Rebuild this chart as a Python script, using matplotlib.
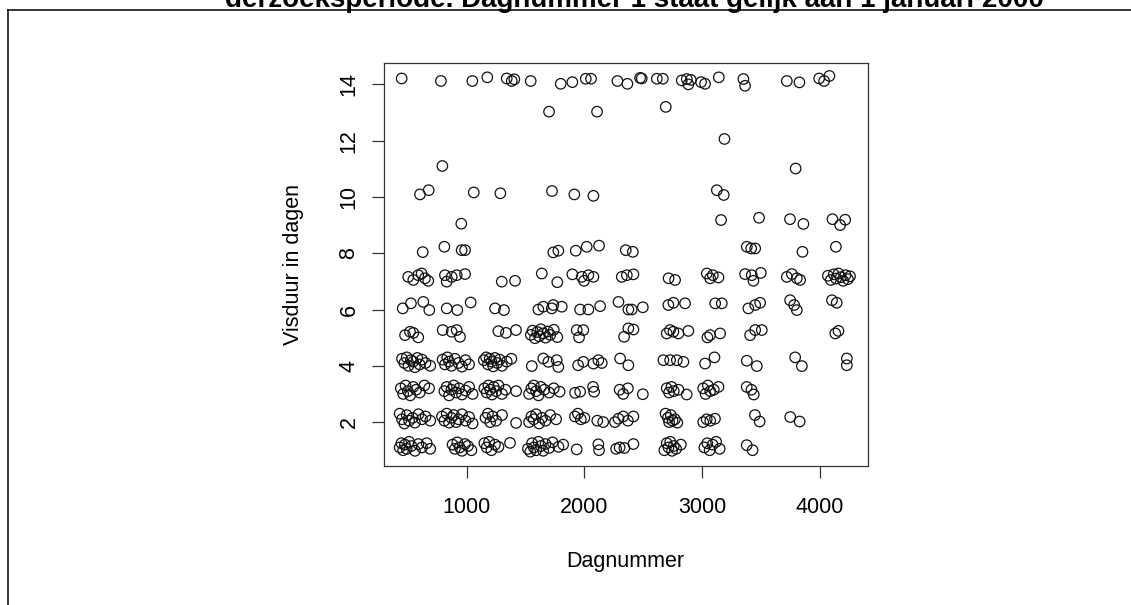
import numpy as np
import matplotlib
matplotlib.use("Agg")
import matplotlib.pyplot as plt
from matplotlib.lines import Line2D

plt.rcParams['font.family'] = ['Liberation Sans', 'DejaVu Sans']

# Dagnummer (x) and jittered visduur in dagen (y), grouped by whole-day level
dag_1 = [430, 445, 460, 475, 490, 510, 530, 560, 590, 620, 660, 690,
         880, 900, 920, 940, 960, 985, 1010, 1040,
         1150, 1170, 1190, 1210, 1240, 1270, 1368,
         1520, 1540, 1555, 1570, 1590, 1610, 1630, 1650, 1670, 1700, 1730, 1780, 1820,
         1935, 2119, 2125, 2270, 2300, 2340, 2417,
         2680, 2700, 2715, 2730, 2745, 2760, 2780, 2820,
         3020, 3045, 3065, 3090, 3120, 3150, 3380, 3430]
duur_1 = [1.10, 1.25, 1.00, 1.20, 1.05, 1.30, 1.15, 0.98, 1.22, 1.10, 1.25, 1.05,
          1.20, 1.05, 1.28, 1.10, 0.98, 1.22, 1.15, 1.00,
          1.25, 1.10, 1.30, 1.00, 1.20, 1.12, 1.26,
          1.05, 0.95, 1.25, 1.10, 1.00, 1.30, 1.15, 0.98, 1.22, 1.08, 1.28, 1.12, 1.20,
          1.03, 1.21, 1.00, 1.05, 1.10, 1.08, 1.22,
          1.00, 1.25, 1.10, 1.30, 0.98, 1.15, 1.05, 1.20,
          1.10, 1.25, 1.00, 1.20, 1.30, 1.05, 1.18, 1.00]

dag_2 = [430, 450, 470, 490, 510, 540, 560, 590, 620, 650, 690,
         790, 810, 830, 850, 870, 890, 910, 930, 960, 990, 1020, 1050,
         1160, 1180, 1200, 1220, 1250, 1300, 1420,
         1530, 1550, 1570, 1590, 1615, 1640, 1670, 1710, 1760,
         1920, 1945, 1970, 2000, 2110, 2160,
         2260, 2290, 2330, 2370, 2417,
         2690, 2710, 2720, 2735, 2750, 2770, 2790,
         3010, 3040, 3070, 3110, 3450, 3490, 3750, 3830]
duur_2 = [2.30, 2.10, 1.95, 2.25, 2.05, 2.15, 1.98, 2.28, 2.10, 2.20, 2.05,
          2.20, 2.05, 2.30, 1.98, 2.15, 2.25, 2.00, 2.10, 2.28, 2.05, 2.18, 1.95,
          2.15, 2.30, 2.00, 2.20, 2.05, 2.25, 1.97,
          2.00, 2.20, 2.10, 2.28, 1.95, 2.15, 2.05, 2.25, 2.10,
          2.20, 2.30, 2.10, 2.15, 2.05, 2.00,
          2.00, 2.12, 2.20, 2.05, 2.20,
          2.30, 2.15, 2.00, 2.25, 2.05, 2.10, 1.98,
          2.00, 2.10, 2.05, 2.12, 2.25, 2.02, 2.18, 2.02]

dag_3 = [440, 460, 480, 500, 520, 545, 570, 600, 640, 680,
         810, 830, 850, 870, 890, 910, 935, 960, 990, 1020, 1050,
         1150, 1170, 1185, 1200, 1215, 1230, 1250, 1270, 1300, 1330, 1420,
         1530, 1550, 1570, 1590, 1610, 1630, 1660, 1700, 1740, 1790,
         1921, 1964, 2074, 2083, 2300, 2330, 2370, 2497,
         2700, 2720, 2740, 2760, 2800, 2870,
         3010, 3030, 3050, 3070, 3100, 3140, 3380, 3420, 3440]
duur_3 = [3.20, 3.00, 3.30, 3.10, 2.95, 3.25, 3.15, 3.05, 3.30, 3.20,
          3.10, 3.25, 2.95, 3.15, 3.30, 3.05, 3.20, 2.98, 3.12, 3.25, 3.00,
          3.20, 3.05, 3.30, 3.15, 2.98, 3.25, 3.10, 3.30, 3.00, 3.15, 3.10,
          3.00, 3.20, 3.30, 3.10, 2.95, 3.25, 3.15, 3.05, 3.20, 3.08,
          3.04, 3.08, 3.25, 3.08, 3.15, 3.00, 3.20, 2.99,
          3.20, 3.05, 3.25, 3.10, 3.15, 2.98,
          3.20, 3.00, 3.30, 3.10, 3.15, 3.25, 3.25, 3.15, 2.98]

dag_4 = [450, 470, 490, 505, 525, 545, 560, 580, 600, 620, 650, 690,
         795, 815, 835, 850, 870, 900, 930, 960, 990, 1020,
         1145, 1165, 1180, 1195, 1210, 1225, 1240, 1260, 1280, 1300, 1340, 1380,
         1553, 1651, 1694, 1765, 1779, 1947, 1991, 2077, 2119, 2148,
         2304, 2374, 2672, 2729, 2786, 2842, 3026, 3106,
         3381, 3466, 3792, 3849, 4231, 4231]
duur_4 = [4.25, 4.10, 4.30, 4.00, 4.20, 4.15, 3.95, 4.28, 4.05, 4.22, 4.10, 4.00,
          4.22, 4.05, 4.30, 4.15, 4.00, 4.25, 4.10, 3.97, 4.20, 4.05,
          4.20, 4.30, 4.05, 4.25, 4.15, 3.98, 4.28, 4.10, 4.22, 4.00, 4.15, 4.25,
          3.99, 4.26, 4.14, 4.20, 3.96, 4.02, 4.14, 4.08, 4.20, 4.10,
          4.26, 4.02, 4.20, 4.20, 4.20, 4.14, 4.08, 4.30,
          4.18, 3.99, 4.30, 3.99, 4.26, 4.02]

dag_5 = [476, 518, 546, 588, 796, 872, 915, 943, 1269, 1334, 1419,
         1545, 1560, 1580, 1600, 1615, 1630, 1650, 1670, 1690, 1710, 1740, 1770,
         1935, 1955, 1991, 2338, 2374, 2417,
         2700, 2728, 2757, 2799, 2884, 3046, 3069, 3154,
         3409, 3452, 3508, 4133, 4160]
duur_5 = [5.09, 5.21, 5.17, 5.01, 5.27, 5.21, 5.27, 5.03, 5.23, 5.17, 5.27,
          5.10, 5.25, 4.98, 5.20, 5.05, 5.30, 5.15, 5.00, 5.22, 5.10, 5.28, 5.02,
          5.27, 5.01, 5.27, 5.03, 5.33, 5.29,
          5.15, 5.27, 5.21, 5.15, 5.24, 5.01, 5.09, 5.15,
          5.09, 5.27, 5.27, 5.15, 5.24]

dag_6 = [456, 526, 631, 682, 830, 920, 1034, 1241, 1317,
         1609, 1651, 1723, 1736, 1808, 1964, 2034, 2134,
         2290, 2374, 2403, 2497, 2714, 2757, 2856, 3112, 3168,
         3394, 3452, 3494, 3749, 3783, 3806, 4105, 4145]
duur_6 = [6.04, 6.22, 6.27, 5.98, 6.04, 5.98, 6.25, 6.04, 5.98,
          6.00, 6.10, 6.04, 6.16, 6.10, 6.00, 6.00, 6.12,
          6.27, 6.00, 6.00, 6.08, 6.16, 6.24, 6.22, 6.22, 6.22,
          6.04, 6.16, 6.24, 6.33, 6.16, 5.98, 6.33, 6.24]

dag_7 = [503, 546, 588, 617, 645, 673, 815, 830, 872, 915, 986,
         1298, 1411, 1638, 1770, 1898, 1978, 1997, 2034, 2077,
         2318, 2361, 2417, 2716, 2771, 3041, 3069, 3140, 3092,
         3366, 3437, 3500, 3423, 3721, 3764, 3834, 3806,
         4070, 4095, 4120, 4140, 4160, 4180, 4200, 4220, 4240, 4258]
duur_7 = [7.16, 7.05, 7.22, 7.28, 7.11, 7.02, 7.22, 6.99, 7.16, 7.22, 7.26,
          6.99, 7.02, 7.28, 6.97, 7.25, 7.16, 7.02, 7.22, 7.16,
          7.16, 7.22, 7.25, 7.11, 7.05, 7.28, 7.11, 7.14, 7.22,
          7.26, 7.02, 7.30, 7.22, 7.16, 7.26, 7.05, 7.11,
          7.20, 7.05, 7.25, 7.10, 7.28, 7.15, 7.02, 7.22, 7.08, 7.18]

dag_8 = [626, 810, 957, 986, 1736, 1779, 1927, 2020, 2125, 2352, 2412,
         3381, 3418, 3452, 3854, 4138]
duur_8 = [8.04, 8.23, 8.11, 8.11, 8.03, 8.09, 8.09, 8.23, 8.27, 8.11, 8.05,
          8.23, 8.17, 8.17, 8.05, 8.23]

dag_9 = [954, 3162, 3485, 3748, 3862, 4109, 4174, 4217]
duur_9 = [9.05, 9.18, 9.26, 9.21, 9.04, 9.21, 9.00, 9.19]

dag_10 = [603, 677, 1060, 1286, 1725, 1915, 2077, 3126, 3185]
duur_10 = [10.09, 10.24, 10.16, 10.13, 10.21, 10.09, 10.04, 10.24, 10.07]

dag_11 = [793, 3796]
duur_11 = [11.10, 11.01]

dag_12 = [3191]
duur_12 = [12.06]

dag_13 = [1700, 2108, 2692]
duur_13 = [13.03, 13.03, 13.20]

dag_14 = [447, 781, 1048, 1175, 1340, 1383, 1405, 1544, 1799, 1898, 2012, 2057,
          2281, 2366, 2474, 2488, 2616, 2667, 2828, 2871, 2884, 2905, 2992, 3026,
          3143, 3352, 3366, 3721, 3828, 3996, 4038, 4083]
duur_14 = [14.21, 14.12, 14.12, 14.25, 14.21, 14.12, 14.18, 14.12, 14.02, 14.08, 14.20, 14.20,
           14.12, 14.02, 14.23, 14.21, 14.20, 14.20, 14.14, 14.19, 14.00, 14.16, 14.08, 14.02,
           14.25, 14.19, 13.95, 14.12, 14.07, 14.21, 14.12, 14.30]

x_ticks = [1000, 2000, 3000, 4000]
y_ticks = [2, 4, 6, 8, 10, 12, 14]

dagnummer = np.concatenate([dag_1, dag_2, dag_3, dag_4, dag_5, dag_6, dag_7,
                            dag_8, dag_9, dag_10, dag_11, dag_12, dag_13, dag_14])
visduur = np.concatenate([duur_1, duur_2, duur_3, duur_4, duur_5, duur_6, duur_7,
                          duur_8, duur_9, duur_10, duur_11, duur_12, duur_13, duur_14])

W, H = 1131, 605
fig = plt.figure(figsize=(W / 100, H / 100), dpi=100)

ax = fig.add_axes([384 / W, 1 - 466 / H, (868 - 384) / W, (466 - 62.7) / H])
ax.scatter(dagnummer, visduur, s=57, facecolors='none', edgecolors='#111111',
           linewidths=0.9)

ax.set_xlim(297, 4411)
ax.set_ylim(0.44, 14.77)
ax.set_xticks(x_ticks)
ax.set_yticks(y_ticks)
ax.set_xticklabels([str(v) for v in x_ticks])
ax.set_yticklabels([str(v) for v in y_ticks], rotation=90, va='center')
ax.tick_params(axis='both', direction='out', length=8.6, width=0.9,
               color='#333333', labelsize=15.5)
ax.tick_params(axis='x', pad=13.5)
ax.tick_params(axis='y', pad=9)
for sp in ax.spines.values():
    sp.set_linewidth(0.9)
    sp.set_color('#333333')

fig.text(566 / W + (685 - 566) / 2 / W, 1 - 567.3 / H, 'Dagnummer',
         ha='center', va='baseline', fontsize=15.5)
fig.text(299 / W, 1 - 264.2 / H, 'Visduur in dagen', rotation=90,
         rotation_mode='anchor', ha='center', va='baseline', fontsize=15.5)

# caption line running above the plot, and the page frame
fig.text(225 / W, 1 - 6.7 / H,
         'derzoeksperiode. Dagnummer 1 staat gelijk aan 1 januari 2000',
         ha='left', va='baseline', fontsize=20, fontweight='bold')
fig.add_artist(Line2D([8 / W, 8 / W], [0, 1 - 9.5 / H], color='black', lw=1.1,
                      transform=fig.transFigure))
fig.add_artist(Line2D([8 / W, 1], [1 - 9.5 / H, 1 - 9.5 / H], color='black', lw=1.1,
                      transform=fig.transFigure))

fig.savefig('out.png', dpi=100)
